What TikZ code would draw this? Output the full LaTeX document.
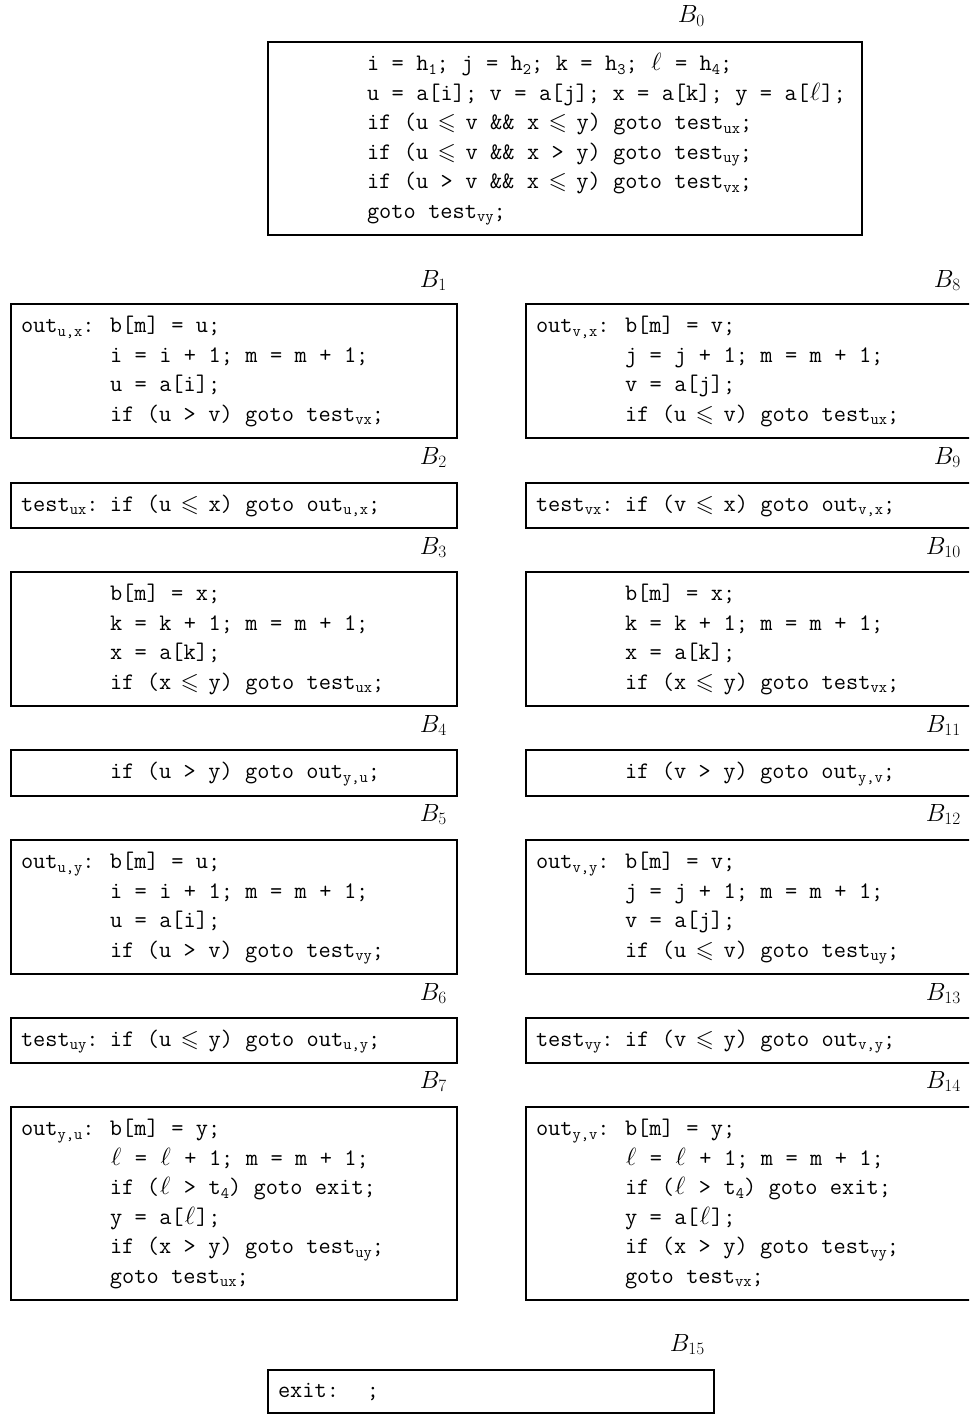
\documentclass[tikz,border=0pt]{standalone}
\usepackage{amssymb}
\usepackage{array}
\newcommand\subx[1]{\raisebox{-0.35ex}{\fontsize{16}{16}\selectfont\ttfamily #1}}
\newcommand\LE{\makebox[0.525em]{$\leqslant$}}
\newcommand\ELL{\makebox[0.525em]{$\ell$}}
\newcommand\codefont{\fontsize{23.7}{29.5}\selectfont\ttfamily}
\newcommand\lblfont{\fontsize{24}{28}\selectfont}
\newenvironment{code}{\spaceskip=0.525em\relax\xspaceskip=0.525em\relax\begin{tabular}{@{}p{89pt}@{}l@{}}}{\end{tabular}}
\begin{document}
\begin{tikzpicture}[x=1pt,y=-1pt,
  blk/.style={draw, line width=2.4pt, anchor=north west, outer sep=0pt, inner xsep=10pt, inner ysep=0pt, font=\codefont, text width=426pt},
  lbl/.style={anchor=base east, inner sep=0pt, font=\lblfont}]
\useasboundingbox (0,0) rectangle (969,1416);
\clip (0,0) rectangle (969,1416);

% B0
\node[lbl] (l0) at (705,23) {$B_{0}$};
\node[blk, text width=574pt, minimum height=193pt] (b0) at (268,42) {\begin{code}
 & i = h\subx{1}; j = h\subx{2}; k = h\subx{3}; \ELL{} = h\subx{4};\\
 & u = a[i]; v = a[j]; x = a[k]; y = a[\ELL];\\
 & if (u \LE{} v \&\& x \LE{} y) goto test\subx{ux};\\
 & if (u \LE{} v \&\& x > y) goto test\subx{uy};\\
 & if (u > v \&\& x \LE{} y) goto test\subx{vx};\\
 & goto test\subx{vy};
\end{code}};

% left column
\node[lbl] (l1) at (447,287) {$B_{1}$};
\node[blk, minimum height=134pt] (b1) at (11,304) {\begin{code}
out\subx{u,x}: & b[m] = u;\\
 & i = i + 1; m = m + 1;\\
 & u = a[i];\\
 & if (u > v) goto test\subx{vx};
\end{code}};
\node[lbl] (l2) at (447,464) {$B_{2}$};
\node[blk, minimum height=45pt] (b2) at (11,483) {\begin{code}
test\subx{ux}: & if (u \LE{} x) goto out\subx{u,x};
\end{code}};
\node[lbl] (l3) at (447,554) {$B_{3}$};
\node[blk, minimum height=134pt] (b3) at (11,572) {\begin{code}
 & b[m] = x;\\
 & k = k + 1; m = m + 1;\\
 & x = a[k];\\
 & if (x \LE{} y) goto test\subx{ux};
\end{code}};
\node[lbl] (l4) at (447,732) {$B_{4}$};
\node[blk, minimum height=46pt] (b4) at (11,750) {\begin{code}
 & if (u > y) goto out\subx{y,u};
\end{code}};
\node[lbl] (l5) at (447,821) {$B_{5}$};
\node[blk, minimum height=134pt] (b5) at (11,840) {\begin{code}
out\subx{u,y}: & b[m] = u;\\
 & i = i + 1; m = m + 1;\\
 & u = a[i];\\
 & if (u > v) goto test\subx{vy};
\end{code}};
\node[lbl] (l6) at (447,1000) {$B_{6}$};
\node[blk, minimum height=45pt] (b6) at (11,1018) {\begin{code}
test\subx{uy}: & if (u \LE{} y) goto out\subx{u,y};
\end{code}};
\node[lbl] (l7) at (447,1088) {$B_{7}$};
\node[blk, minimum height=193pt] (b7) at (11,1107) {\begin{code}
out\subx{y,u}: & b[m] = y;\\
 & \ELL{} = \ELL{} + 1; m = m + 1;\\
 & if (\ELL{} > t\subx{4}) goto exit;\\
 & y = a[\ELL];\\
 & if (x > y) goto test\subx{uy};\\
 & goto test\subx{ux};
\end{code}};

% right column
\node[lbl] (l8) at (961,287) {$B_{8}$};
\node[blk, minimum height=134pt] (b8) at (526,304) {\begin{code}
out\subx{v,x}: & b[m] = v;\\
 & j = j + 1; m = m + 1;\\
 & v = a[j];\\
 & if (u \LE{} v) goto test\subx{ux};
\end{code}};
\node[lbl] (l9) at (961,464) {$B_{9}$};
\node[blk, minimum height=45pt] (b9) at (526,483) {\begin{code}
test\subx{vx}: & if (v \LE{} x) goto out\subx{v,x};
\end{code}};
\node[lbl] (l10) at (961,554) {$B_{10}$};
\node[blk, minimum height=134pt] (b10) at (526,572) {\begin{code}
 & b[m] = x;\\
 & k = k + 1; m = m + 1;\\
 & x = a[k];\\
 & if (x \LE{} y) goto test\subx{vx};
\end{code}};
\node[lbl] (l11) at (961,732) {$B_{11}$};
\node[blk, minimum height=46pt] (b11) at (526,750) {\begin{code}
 & if (v > y) goto out\subx{y,v};
\end{code}};
\node[lbl] (l12) at (961,821) {$B_{12}$};
\node[blk, minimum height=134pt] (b12) at (526,840) {\begin{code}
out\subx{v,y}: & b[m] = v;\\
 & j = j + 1; m = m + 1;\\
 & v = a[j];\\
 & if (u \LE{} v) goto test\subx{uy};
\end{code}};
\node[lbl] (l13) at (961,1000) {$B_{13}$};
\node[blk, minimum height=45pt] (b13) at (526,1018) {\begin{code}
test\subx{vy}: & if (v \LE{} y) goto out\subx{v,y};
\end{code}};
\node[lbl] (l14) at (961,1088) {$B_{14}$};
\node[blk, minimum height=193pt] (b14) at (526,1107) {\begin{code}
out\subx{y,v}: & b[m] = y;\\
 & \ELL{} = \ELL{} + 1; m = m + 1;\\
 & if (\ELL{} > t\subx{4}) goto exit;\\
 & y = a[\ELL];\\
 & if (x > y) goto test\subx{vy};\\
 & goto test\subx{vx};
\end{code}};

% B15
\node[lbl] (l15) at (705,1351) {$B_{15}$};
\node[blk, minimum height=43pt] (b15) at (268,1370) {\begin{code}
exit: & ;
\end{code}};
\end{tikzpicture}
\end{document}
